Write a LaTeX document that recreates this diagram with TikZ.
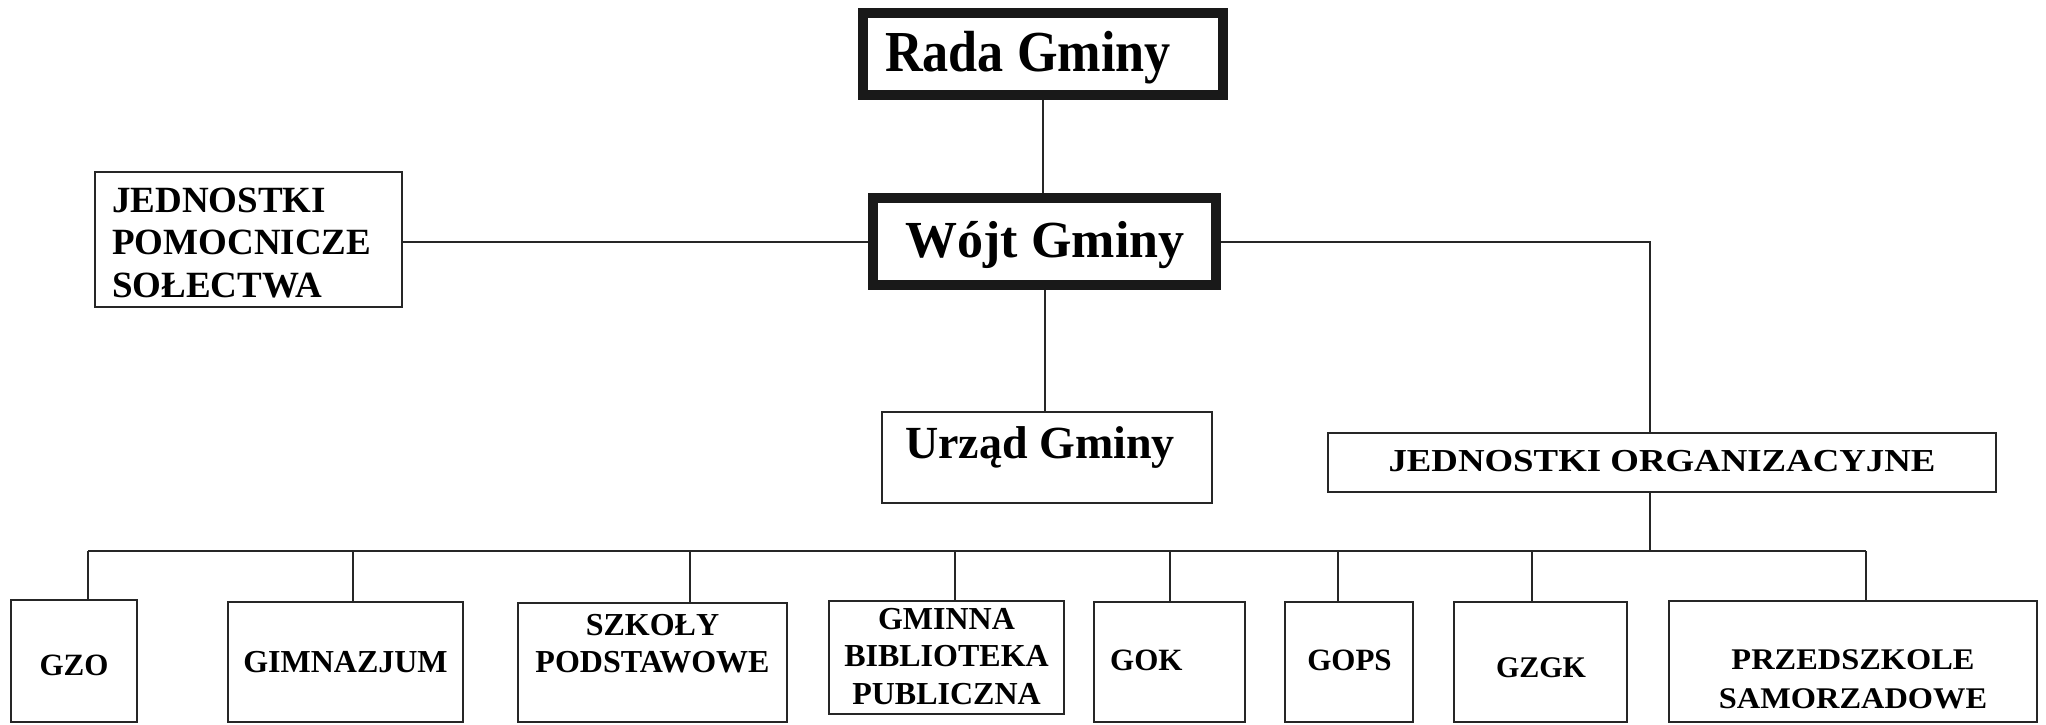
\documentclass[tikz,border=0pt]{standalone}
\usepackage{fontspec}
\setmainfont{Liberation Serif}
\newcommand\setfs[2]{\bfseries\fontsize{#1}{#2}\selectfont}
\tikzset{
  heavybox/.style={draw=black!90, line width=10pt, rectangle, inner sep=0pt},
  box/.style={draw=black!85, line width=2.2pt, rectangle, inner sep=0pt},
  conn/.style={draw=black!85, line width=2pt},
  lbl/.style={inner sep=0pt, anchor=base, align=center, text=black},
  lblw/.style={inner sep=0pt, anchor=base west, align=left, text=black}
}
\begin{document}
\begin{tikzpicture}[x=1pt,y=-1pt]
\fill[white] (0,0) rectangle (2046,725);
\useasboundingbox (0,0) rectangle (2046,725);

% boxes
\node[heavybox, minimum width=360pt, minimum height=82pt] (rada) at (1043,54) {};
\node[heavybox, minimum width=343pt, minimum height=87pt] (wojt) at (1044.5,241.5) {};
\node[box, minimum width=307pt, minimum height=135pt] (jp) at (248.5,239.5) {};
\node[box, minimum width=330pt, minimum height=91pt] (urzad) at (1047,457.5) {};
\node[box, minimum width=668pt, minimum height=59pt] (jo) at (1662,462.5) {};
\node[box, minimum width=126pt, minimum height=122pt] (gzo) at (74,661) {};
\node[box, minimum width=235pt, minimum height=120pt] (gim) at (345.5,662) {};
\node[box, minimum width=269pt, minimum height=119pt] (szk) at (652.5,662.5) {};
\node[box, minimum width=235pt, minimum height=113pt] (gbp) at (946.5,657.5) {};
\node[box, minimum width=151pt, minimum height=120pt] (gok) at (1169.5,662) {};
\node[box, minimum width=128pt, minimum height=120pt] (gops) at (1349,662) {};
\node[box, minimum width=173pt, minimum height=120pt] (gzgk) at (1540.5,662) {};
\node[box, minimum width=368pt, minimum height=121pt] (prz) at (1853,661.5) {};

% texts (for multi-line texts the base anchor is the last line)
\node[lbl, font=\setfs{58}{64}] (rada-t) at (1028,72) {\scalebox{0.9}[1]{Rada Gminy}};
\node[lbl, font=\setfs{52}{58}] (wojt-t) at (1045,257) {Wójt Gminy};
\node[lblw, font=\setfs{37}{42.5}] (jp-t) at (112,297) {JEDNOSTKI\\POMOCNICZE\\SOŁECTWA};
\node[lbl, font=\setfs{46}{52}] (urzad-t) at (1040,458) {Urząd Gminy};
\node[lbl, font=\setfs{32}{36}] (jo-t) at (1662,471) {\scalebox{1.15}[1]{JEDNOSTKI ORGANIZACYJNE}};
\node[lbl, font=\setfs{31}{36}] (gzo-t) at (74,675) {GZO};
\node[lbl, font=\setfs{32}{37}] (gim-t) at (345.5,672) {GIMNAZJUM};
\node[lbl, font=\setfs{32}{37}] (szk-t) at (652.5,672) {SZKOŁY\\PODSTAWOWE};
\node[lbl, font=\setfs{32}{37.5}] (gbp-t) at (946.5,704) {GMINNA\\BIBLIOTEKA\\PUBLICZNA};
\node[lblw, font=\setfs{31}{36}] (gok-t) at (1110,670) {GOK};
\node[lbl, font=\setfs{31}{36}] (gops-t) at (1349.5,670) {GOPS};
\node[lbl, font=\setfs{30}{36}] (gzgk-t) at (1541,677) {GZGK};
\node[lbl, font=\setfs{30}{39}] (prz-t) at (1853,708) {\scalebox{1.08}[1]{PRZEDSZKOLE}\\\scalebox{1.08}[1]{SAMORZADOWE}};

% connectors (upper part)
\draw[conn] (rada.south) -- (rada.south |- wojt.north);
\draw[conn] (wojt.west) -- (wojt.west -| jp.east);
\coordinate (jodrop) at (1650,551);
\draw[conn] (wojt.east) -| (jo.north -| jodrop);
\draw[conn] (wojt.south) -- (wojt.south |- urzad.north);
\draw[conn] (jo.south -| jodrop) -- (jodrop);

% bus
\coordinate (d1) at (88,551);
\coordinate (d2) at (353,551);
\coordinate (d3) at (690,551);
\coordinate (d4) at (955,551);
\coordinate (d5) at (1170,551);
\coordinate (d6) at (1338,551);
\coordinate (d7) at (1532,551);
\coordinate (d8) at (1866,551);
\draw[conn] (d1) -- (d8);
\draw[conn] (d1) -- (d1 |- gzo.north);
\draw[conn] (d2) -- (d2 |- gim.north);
\draw[conn] (d3) -- (d3 |- szk.north);
\draw[conn] (d4) -- (d4 |- gbp.north);
\draw[conn] (d5) -- (d5 |- gok.north);
\draw[conn] (d6) -- (d6 |- gops.north);
\draw[conn] (d7) -- (d7 |- gzgk.north);
\draw[conn] (d8) -- (d8 |- prz.north);
\end{tikzpicture}
\end{document}
